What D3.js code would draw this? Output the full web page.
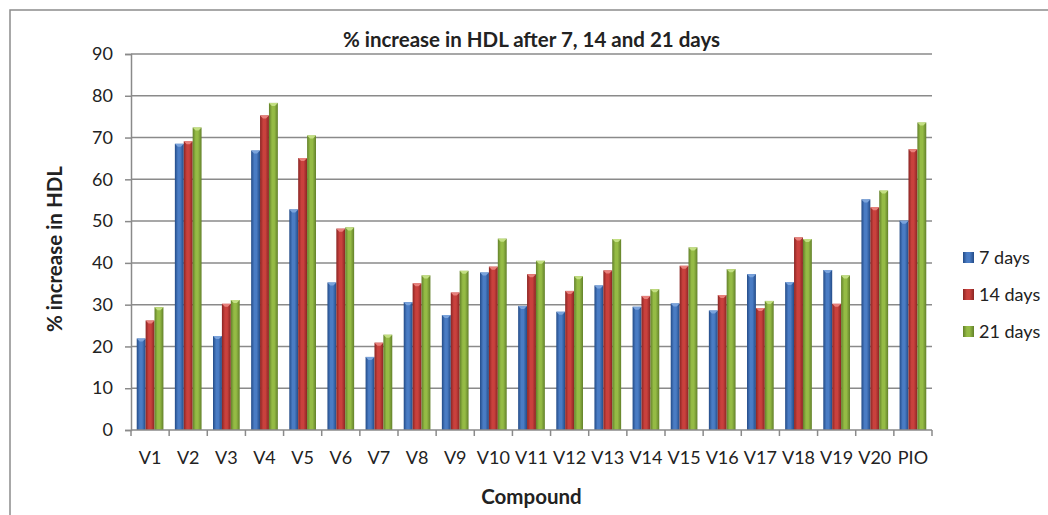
<!DOCTYPE html>
<meta charset="utf-8">
<script src="https://d3js.org/d3.v7.min.js"></script>
<style>
  body { margin: 0; background: #fff; }
  text { font-family: Lato, "Open Sans", sans-serif; fill: #222; }
</style>
<div id="chart"></div>
<script>

    // data
    var compounds = ["V1", "V2", "V3", "V4", "V5", "V6", "V7", "V8", "V9", "V10",
        "V11", "V12", "V13", "V14", "V15", "V16", "V17", "V18", "V19", "V20", "PIO"];
    var days7 = [21.9, 68.5, 22.5, 66.9, 52.8, 35.3, 17.5, 30.6, 27.5, 37.7,
        29.7, 28.3, 34.6, 29.5, 30.3, 28.6, 37.3, 35.4, 38.3, 55.2, 50.1];
    var days14 = [26.2, 69.1, 30.2, 75.3, 65.1, 48.2, 20.9, 35.1, 32.9, 39.1,
        37.3, 33.3, 38.2, 32.1, 39.3, 32.3, 29.2, 46.1, 30.2, 53.3, 67.2];
    var days21 = [29.4, 72.4, 31.1, 78.3, 70.5, 48.5, 22.8, 37.0, 38.1, 45.8,
        40.5, 36.8, 45.7, 33.7, 43.7, 38.5, 30.9, 45.7, 37.0, 57.3, 73.6];
    var seriesNames = ["7 days", "14 days", "21 days"];
    var yTicks = [0, 10, 20, 30, 40, 50, 60, 70, 80, 90];

    var series = [days7, days14, days21];
    var colors = [
        { dark: "#234b87", mid: "#4a7cc4", light: "#7aa3dc" },
        { dark: "#8a2523", mid: "#c9413d", light: "#e8807b" },
        { dark: "#62802a", mid: "#95bb45", light: "#c3df82" }
    ];

    var W = 1048, H = 515;
    var margin = { top: 54, right: 116, bottom: 85, left: 131 },
        width = W - margin.left - margin.right,
        height = H - margin.top - margin.bottom;

    var svgRoot = d3.select("#chart").append("svg")
        .attr("width", W)
        .attr("height", H);

    // gradients for the bevelled bars
    var defs = svgRoot.append("defs");
    colors.forEach(function (c, i) {
        var g = defs.append("linearGradient")
            .attr("id", "grad" + i)
            .attr("x1", "0%").attr("x2", "100%")
            .attr("y1", "0%").attr("y2", "0%");
        g.append("stop").attr("offset", "0%").attr("stop-color", c.dark);
        g.append("stop").attr("offset", "35%").attr("stop-color", c.mid);
        g.append("stop").attr("offset", "60%").attr("stop-color", c.mid);
        g.append("stop").attr("offset", "100%").attr("stop-color", c.dark);
    });

    // outer frame (cropped on the right and bottom)
    svgRoot.append("rect")
        .attr("x", 10).attr("y", 10)
        .attr("width", W + 20).attr("height", H + 20)
        .attr("fill", "none")
        .attr("stroke", "#8c8c8c")
        .attr("stroke-width", 1.5);

    var svg = svgRoot.append("g")
        .attr("transform", "translate(" + margin.left + "," + margin.top + ")");

    var x = d3.scaleBand()
        .domain(compounds)
        .range([0, width])
        .paddingInner(0.3)
        .paddingOuter(0.15);

    var xs = d3.scaleBand()
        .domain(d3.range(series.length))
        .range([0, x.bandwidth()]);

    var y = d3.scaleLinear()
        .domain([0, 90])
        .range([height, 0]);

    // horizontal gridlines
    svg.append("g")
        .selectAll("line")
        .data(yTicks.slice(1))
        .join("line")
        .attr("x1", 0).attr("x2", width)
        .attr("y1", function (d) { return y(d); })
        .attr("y2", function (d) { return y(d); })
        .attr("stroke", "#8a8a8a")
        .attr("stroke-width", 1.5);

    // Y axis
    var yAxis = svg.append("g")
        .call(d3.axisLeft(y).tickValues(yTicks).tickSize(6).tickPadding(12));
    yAxis.select(".domain").attr("stroke", "#8a8a8a").attr("stroke-width", 1.5);
    yAxis.selectAll(".tick line").attr("stroke", "#8a8a8a").attr("stroke-width", 1.5);
    yAxis.selectAll("text").attr("font-size", 18).attr("font-family", "Lato, sans-serif").attr("fill", "#222");

    // bars
    var groups = svg.append("g")
        .selectAll("g")
        .data(compounds)
        .join("g")
        .attr("transform", function (d) { return "translate(" + x(d) + ",0)"; });

    groups.selectAll("rect")
        .data(function (d, i) { return series.map(function (s, k) { return { k: k, v: s[i] }; }); })
        .join("rect")
        .attr("x", function (d) { return xs(d.k); })
        .attr("y", function (d) { return y(d.v); })
        .attr("width", xs.bandwidth())
        .attr("height", function (d) { return height - y(d.v); })
        .attr("fill", function (d) { return "url(#grad" + d.k + ")"; });

    // little light bevel on each bar top
    groups.selectAll("path")
        .data(function (d, i) { return series.map(function (s, k) { return { k: k, v: s[i] }; }); })
        .join("path")
        .attr("d", function (d) {
            var x0 = xs(d.k), w = xs.bandwidth(), t = y(d.v);
            return "M" + x0 + "," + t + "L" + (x0 + w) + "," + t +
                "L" + (x0 + w / 2 + 1.5) + "," + (t + 3) + "L" + (x0 + w / 2 - 1.5) + "," + (t + 3) + "Z";
        })
        .attr("fill", function (d) { return colors[d.k].light; });

    // X axis with ticks between categories
    var xAxisG = svg.append("g")
        .attr("transform", "translate(0," + height + ")");
    xAxisG.append("line")
        .attr("x1", 0).attr("x2", width)
        .attr("stroke", "#8a8a8a").attr("stroke-width", 1.5);
    var step = x.step();
    xAxisG.selectAll(".sep")
        .data(compounds.concat(["end"]))
        .join("line")
        .attr("class", "sep")
        .attr("x1", function (d, i) { return i === compounds.length ? width : x(d) - step * x.paddingInner() / 2; })
        .attr("x2", function (d, i) { return i === compounds.length ? width : x(d) - step * x.paddingInner() / 2; })
        .attr("y1", 0).attr("y2", 6)
        .attr("stroke", "#8a8a8a").attr("stroke-width", 1.5);
    xAxisG.selectAll(".lbl")
        .data(compounds)
        .join("text")
        .attr("class", "lbl")
        .attr("x", function (d) { return x(d) + x.bandwidth() / 2; })
        .attr("y", 34)
        .attr("text-anchor", "middle")
        .attr("font-size", 18)
        .text(function (d) { return d; });

    // titles
    svgRoot.append("text")
        .attr("x", margin.left + width / 2)
        .attr("y", 47)
        .attr("text-anchor", "middle")
        .attr("font-size", 20.5)
        .attr("font-weight", "bold")
        .text("% increase in HDL after 7, 14 and 21 days");

    svgRoot.append("text")
        .attr("x", margin.left + width / 2)
        .attr("y", 504)
        .attr("text-anchor", "middle")
        .attr("font-size", 20.5)
        .attr("font-weight", "bold")
        .text("Compound");

    svgRoot.append("text")
        .attr("transform", "translate(62," + (margin.top + height / 2 + 7) + ") rotate(-90)")
        .attr("text-anchor", "middle")
        .attr("font-size", 20.5)
        .attr("font-weight", "bold")
        .text("% increase in HDL");

    // legend
    var legend = svgRoot.append("g")
        .attr("transform", "translate(963,252)");
    var items = legend.selectAll("g")
        .data(seriesNames)
        .join("g")
        .attr("transform", function (d, i) { return "translate(0," + (i * 37) + ")"; });
    items.append("rect")
        .attr("width", 11).attr("height", 11)
        .attr("fill", function (d, i) { return "url(#grad" + i + ")"; });
    items.append("text")
        .attr("x", 16).attr("y", 12)
        .attr("font-size", 18)
        .text(function (d) { return d; });

</script>
